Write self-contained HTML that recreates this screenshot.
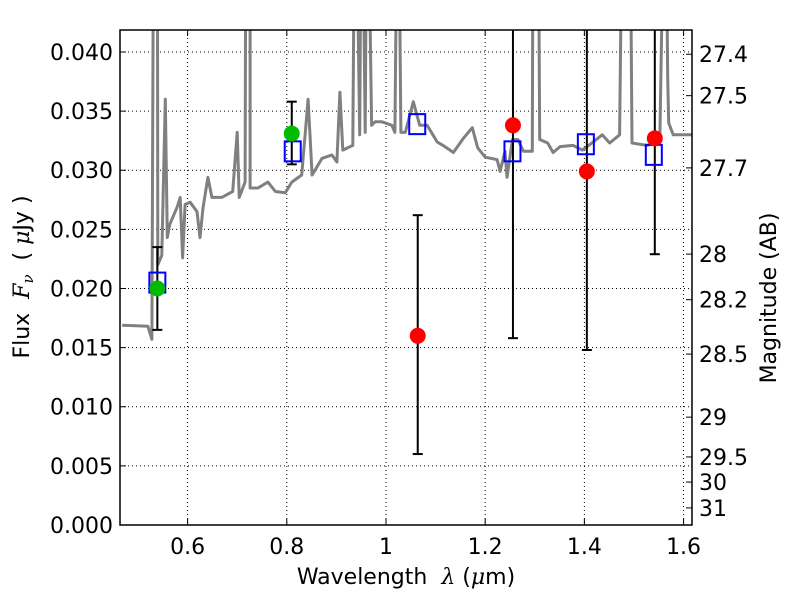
<!DOCTYPE html>
<html><head><meta charset="utf-8"><style>
html,body{margin:0;padding:0;background:#fff;}
svg{display:block;font-family:"DejaVu Sans","Liberation Sans",sans-serif;}
</style></head><body>
<svg id="chart" width="800" height="600" viewBox="0 0 800 600"></svg>
<script>
const specWl=[0.468,0.520,0.528,0.532,0.539,0.540,0.548,0.555,0.559,0.564,0.579,0.585,0.590,0.595,0.605,0.619,0.625,0.631,0.641,0.649,0.669,0.691,0.700,0.704,0.716,0.718,0.726,0.726,0.742,0.762,0.777,0.797,0.810,0.830,0.843,0.851,0.871,0.891,0.901,0.907,0.913,0.933,0.938,0.947,0.951,0.958,0.962,0.971,0.978,0.992,1.012,1.018,1.024,1.030,1.039,1.055,1.068,1.083,1.103,1.115,1.136,1.156,1.174,1.185,1.200,1.224,1.230,1.240,1.244,1.255,1.266,1.277,1.295,1.297,1.306,1.310,1.326,1.337,1.351,1.377,1.396,1.418,1.436,1.451,1.471,1.478,1.491,1.496,1.526,1.552,1.563,1.568,1.570,1.579,1.619];
const specFlux=[0.0169,0.0168,0.0157,0.060,0.060,0.0220,0.0228,0.0360,0.0243,0.0254,0.0269,0.0277,0.0226,0.0271,0.0273,0.0265,0.0243,0.0268,0.0294,0.0277,0.0277,0.0282,0.0332,0.0277,0.0290,0.060,0.060,0.0285,0.0285,0.0290,0.0282,0.0281,0.0290,0.0296,0.0360,0.0296,0.0310,0.0313,0.0307,0.0366,0.0317,0.0321,0.060,0.0330,0.060,0.0332,0.060,0.0338,0.0341,0.0341,0.0338,0.0332,0.060,0.0332,0.0332,0.0358,0.0338,0.0338,0.0324,0.0321,0.0315,0.0327,0.0336,0.0319,0.0311,0.0309,0.0299,0.0316,0.0294,0.0326,0.0326,0.0316,0.0316,0.060,0.060,0.0326,0.0323,0.0315,0.0320,0.0321,0.0317,0.0324,0.0330,0.0323,0.0330,0.060,0.060,0.0323,0.0321,0.0324,0.060,0.0378,0.0340,0.0330,0.0330];
const modelWl=[0.539,0.812,1.063,1.255,1.403,1.540];
const modelFlux=[0.0205,0.0316,0.0339,0.0316,0.0322,0.0313];
const hstWl=[0.539,0.810];
const hstFlux=[0.0200,0.0331];
const hstLo=[0.0165,0.0305];
const hstHi=[0.0235,0.0358];
const irWl=[1.064,1.256,1.405,1.542];
const irFlux=[0.0160,0.0338,0.0299,0.0327];
const irLo=[0.0060,0.0158,0.0148,0.0229];
const irHi=[0.0262,0.050,0.050,0.050];
const xTicks=[0.6,0.8,1.0,1.2,1.4,1.6];
const xTickLabels=["0.6","0.8","1","1.2","1.4","1.6"];
const yTicks=[0,0.005,0.010,0.015,0.020,0.025,0.030,0.035,0.040];
const yTickLabels=["0.000","0.005","0.010","0.015","0.020","0.025","0.030","0.035","0.040"];
const magTicks=[27.4,27.5,27.7,28,28.2,28.5,29,29.5,30,31];
const magTickLabels=["27.4","27.5","27.7","28","28.2","28.5","29","29.5","30","31"];

const L=120,R=692,T=30,B=525,X0=0.4637,X1=1.617,Y0=0,Y1=0.04186;
const sx=v=>L+(v-X0)/(X1-X0)*(R-L);
const sy=v=>B-(v-Y0)/(Y1-Y0)*(B-T);
const svg=document.getElementById('chart');
const NS='http://www.w3.org/2000/svg';
function mk(tag,attrs,parent){const e=document.createElementNS(NS,tag);for(const k in attrs)e.setAttribute(k,attrs[k]);(parent||svg).appendChild(e);return e;}
const defs=mk('defs',{});
const cp=mk('clipPath',{id:'clip'},defs);mk('rect',{x:L,y:T,width:R-L,height:B-T},cp);

const grid=mk('g',{});


xTicks.forEach(v=>{mk('line',{x1:sx(v),x2:sx(v),y1:T,y2:B,stroke:'#000','stroke-width':1,'stroke-dasharray':'1,3'},grid);});
yTicks.forEach(v=>{mk('line',{x1:L,x2:R,y1:sy(v),y2:sy(v),stroke:'#000','stroke-width':1,'stroke-dasharray':'1,3'},grid);});

const plot=mk('g',{'clip-path':'url(#clip)'});
let d='';specWl.forEach((w,i)=>{d+=(i?'L':'M')+sx(w).toFixed(1)+','+sy(specFlux[i]).toFixed(1);});
const sp=mk('path',{d:d,fill:'none',stroke:'#808080','stroke-width':3,'stroke-linejoin':'round'},plot);


function ebar(w,lo,hi,name){const g=mk('g',{},plot);


const x=sx(w);mk('line',{x1:x,x2:x,y1:sy(lo),y2:sy(hi),stroke:'#000','stroke-width':2},g);
mk('line',{x1:x-5,x2:x+5,y1:sy(lo),y2:sy(lo),stroke:'#000','stroke-width':2},g);
mk('line',{x1:x-5,x2:x+5,y1:sy(hi),y2:sy(hi),stroke:'#000','stroke-width':2},g);}
hstWl.forEach((w,i)=>ebar(w,hstLo[i],hstHi[i],'hst-errorbar'));
irWl.forEach((w,i)=>ebar(w,irLo[i],irHi[i],'ir-errorbar'));
modelWl.forEach((w,i)=>{const r=mk('rect',{x:sx(w)-8,y:sy(modelFlux[i])-10,width:16,height:20,fill:'none',stroke:'#0000ff','stroke-width':2},plot);

});
hstWl.forEach((w,i)=>{const c=mk('circle',{cx:sx(w),cy:sy(hstFlux[i]),r:8,fill:'#00bb00'},plot);

});
irWl.forEach((w,i)=>{const c=mk('circle',{cx:sx(w),cy:sy(irFlux[i]),r:8,fill:'#ff0000'},plot);

});

const fr=mk('rect',{x:L,y:T,width:R-L,height:B-T,fill:'none',stroke:'#000','stroke-width':1.5});


xTicks.forEach((v,i)=>{const x=sx(v);mk('line',{x1:x,x2:x,y1:B,y2:B-6,stroke:'#000'});mk('line',{x1:x,x2:x,y1:T,y2:T+6,stroke:'#000'});
const t=mk('text',{x:x,y:B+29,'font-size':22,'text-anchor':'middle'});t.textContent=xTickLabels[i];

});
yTicks.forEach((v,i)=>{const y=sy(v);mk('line',{x1:L,x2:L+6,y1:y,y2:y,stroke:'#000'});
const t=mk('text',{x:L-7,y:y+8,'font-size':22,'text-anchor':'end'});t.textContent=yTickLabels[i];

});
magTicks.forEach((m,i)=>{const f=Math.pow(10,(23.9-m)/2.5);const y=sy(f);mk('line',{x1:R,x2:R-6,y1:y,y2:y,stroke:'#000'});
const t=mk('text',{x:R+7,y:y+8,'font-size':22,'text-anchor':'start'});t.textContent=magTickLabels[i];

});
const xt=mk('text',{x:406,y:584,'font-size':22,'text-anchor':'middle'});
xt.innerHTML='Wavelength\u00a0\u00a0<tspan font-style="italic" font-family="DejaVu Serif,serif">λ</tspan> (<tspan font-style="italic" font-family="DejaVu Serif,serif">μ</tspan>m)';


const yt=mk('text',{x:0,y:0,'font-size':22,'text-anchor':'middle',transform:'translate(29,277) rotate(-90)'});
yt.innerHTML='Flux\u00a0\u00a0<tspan font-style="italic" font-family="DejaVu Serif,serif">F</tspan><tspan font-style="italic" font-family="DejaVu Serif,serif" font-size="15" dy="4">ν</tspan><tspan dy="-4">\u00a0\u00a0(\u00a0</tspan><tspan font-style="italic" font-family="DejaVu Serif,serif">μ</tspan>Jy\u00a0)';


const rt=mk('text',{x:0,y:0,'font-size':22,'text-anchor':'middle',transform:'translate(776,298) rotate(-90)'});
rt.textContent='Magnitude (AB)';


</script>
</body></html>
